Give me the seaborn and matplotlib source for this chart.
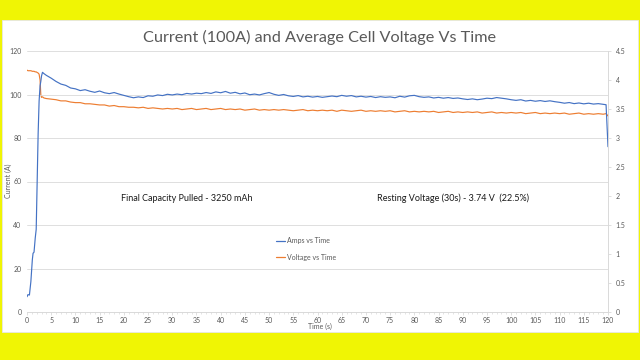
import matplotlib
matplotlib.use("Agg")
import matplotlib.pyplot as plt
import seaborn as sns
import numpy as np
import pandas as pd
from matplotlib.patches import Rectangle
from matplotlib.lines import Line2D
from matplotlib.ticker import MultipleLocator

# ---------------- data ----------------
time_start = [0, 0.2, 0.5, 0.8, 1.1, 1.25, 1.45, 1.7, 1.9, 2.1, 2.3, 2.5, 2.7, 2.85, 3.0, 3.2, 3.5]
amps_start = [7.0, 8.0, 7.8, 14.0, 24.0, 27.0, 27.5, 34.0, 38.0, 60.0, 82.0, 97.0, 104.0, 106.0, 108.5, 110.2, 109.6]
volts_start = [4.17, 4.16, 4.16, 4.16, 4.15, 4.15, 4.15, 4.14, 4.14, 4.13, 4.12, 4.10, 4.00, 3.75, 3.70, 3.71, 3.69]

time_main = list(range(4, 120)) + [119.6, 120]
amps_main = [
    108.8, 107.5, 106.0, 104.8, 104.2, 103.0, 102.6, 101.8, 102.2, 101.5,
    101.0, 101.6, 100.8, 100.4, 100.9, 100.2, 99.6, 99.0, 98.5, 98.9,
    98.6, 99.4, 99.2, 99.8, 99.5, 100.1, 99.8, 100.2, 99.9, 100.5,
    100.2, 100.6, 100.4, 100.9, 100.5, 101.2, 100.8, 101.4, 100.6, 101.0,
    100.3, 100.7, 99.9, 100.2, 99.8, 100.4, 100.9, 100.1, 99.6, 100.0,
    99.4, 99.1, 99.5, 98.9, 99.2, 98.8, 99.1, 98.7, 99.0, 99.3,
    99.0, 99.6, 99.2, 99.5, 98.9, 99.2, 98.8, 99.1, 98.6, 99.0,
    98.7, 98.9, 98.5, 99.2, 98.8, 99.4, 99.6, 99.0, 98.7, 98.9,
    98.4, 98.7, 98.3, 98.6, 98.2, 98.4, 98.0, 97.7, 98.0, 97.6,
    97.9, 98.3, 98.1, 98.6, 98.3, 98.0, 97.6, 97.3, 97.6, 97.0,
    97.3, 96.9, 97.2, 96.8, 97.1, 96.7, 96.4, 96.0, 96.3, 95.8,
    96.1, 95.7, 96.0, 95.6, 95.8, 95.5, 95.3, 76.0]
volts_main = [
    3.68, 3.67, 3.66, 3.64, 3.64, 3.62, 3.61, 3.61, 3.59, 3.59,
    3.58, 3.57, 3.57, 3.55, 3.56, 3.54, 3.54, 3.53, 3.53, 3.52,
    3.53, 3.51, 3.52, 3.51, 3.50, 3.51, 3.50, 3.51, 3.49, 3.50,
    3.51, 3.49, 3.50, 3.51, 3.49, 3.50, 3.51, 3.49, 3.50, 3.49,
    3.50, 3.48, 3.49, 3.50, 3.48, 3.49, 3.48, 3.49, 3.48, 3.49,
    3.48, 3.47, 3.48, 3.49, 3.47, 3.48, 3.47, 3.48, 3.47, 3.48,
    3.46, 3.48, 3.47, 3.46, 3.47, 3.48, 3.46, 3.47, 3.46, 3.47,
    3.46, 3.47, 3.45, 3.46, 3.47, 3.45, 3.46, 3.45, 3.46, 3.45,
    3.46, 3.44, 3.45, 3.46, 3.44, 3.45, 3.44, 3.45, 3.44, 3.45,
    3.43, 3.44, 3.45, 3.43, 3.44, 3.43, 3.44, 3.43, 3.44, 3.42,
    3.43, 3.44, 3.42, 3.43, 3.42, 3.43, 3.42, 3.43, 3.41, 3.42,
    3.43, 3.41, 3.42, 3.41, 3.42, 3.41, 3.42, 3.38]

x_ticks = list(range(0, 125, 5))
left_ticks = [0, 20, 40, 60, 80, 100, 120]
right_ticks = [0, 0.5, 1, 1.5, 2, 2.5, 3, 3.5, 4, 4.5]
right_labels = ["0", "0.5", "1", "1.5", "2", "2.5", "3", "3.5", "4", "4.5"]

title = "Current (100A) and Average Cell Voltage Vs Time"
note_left = "Final Capacity Pulled - 3250 mAh"
note_right = "Resting Voltage (30s) - 3.74 V  (22.5%)"

# ---------------- plot ----------------
sns.set_theme(style="white")
plt.rcParams["font.family"] = ["Lato", "DejaVu Sans"]

BLUE = "#4472C4"
ORANGE = "#ED7D31"
GRAY = "#595959"
GRID = "#D9D9D9"

fig = plt.figure(figsize=(6.4, 3.6), dpi=100)
fig.patch.set_facecolor("#F0F504")
panel = Rectangle((0.003, 1 - 332 / 360), 0.994, (332 - 20) / 360,
                  transform=fig.transFigure, facecolor="white",
                  edgecolor="#E6E6E6", linewidth=0.6, zorder=-10)
fig.patches.append(panel)

ax = fig.add_axes([27 / 640, 1 - 312 / 360, (608 - 27) / 640, (312 - 51) / 360])
df_a = pd.DataFrame({"t": time_start + time_main, "A": amps_start + amps_main})
df_v = pd.DataFrame({"t": time_start + time_main, "V": volts_start + volts_main})

ax2 = ax.twinx()
ax.set_zorder(2)
ax2.set_zorder(1)
ax.patch.set_visible(False)
ax2.patch.set_visible(False)
sns.lineplot(data=df_a, x="t", y="A", ax=ax, color=BLUE, linewidth=0.85)
sns.lineplot(data=df_v, x="t", y="V", ax=ax2, color=ORANGE, linewidth=0.85)

ax.set_xlim(0, 120)
ax.set_ylim(0, 120)
ax2.set_ylim(0, 4.5)
ax.set_xticks(x_ticks)
ax.set_xticklabels([str(v) for v in x_ticks])
ax.xaxis.set_minor_locator(MultipleLocator(1))
ax.set_yticks(left_ticks)
ax.set_yticklabels([str(v) for v in left_ticks])
ax2.set_yticks(right_ticks)
ax2.set_yticklabels(right_labels)

ax2.grid(False)
ax.grid(axis="y", color=GRID, linewidth=0.6)
ax.grid(axis="x", visible=False)
ax.set_axisbelow(True)
for s in ["top", "right", "left"]:
    ax.spines[s].set_visible(False)
ax.spines["bottom"].set_color(GRID)
ax.spines["bottom"].set_linewidth(0.7)
for s in ["top", "left", "bottom"]:
    ax2.spines[s].set_visible(False)
ax2.spines["right"].set_color(GRID)
ax2.spines["right"].set_linewidth(0.7)

ax.tick_params(axis="x", which="major", length=2.5, width=0.6, color=GRID,
               labelsize=5, labelcolor=GRAY, pad=1, direction="out", bottom=True)
ax.tick_params(axis="x", which="minor", length=1.5, width=0.5, color=GRID, bottom=True)
ax.tick_params(axis="y", length=0, labelsize=5, labelcolor=GRAY, pad=4)
ax2.tick_params(axis="y", length=2.5, width=0.6, color=GRID, labelsize=5,
                labelcolor=GRAY, pad=3, right=True)

ax.set_xlabel("Time (s)", fontsize=5, color=GRAY)
ax.xaxis.set_label_coords(0.5, 1 - 326 / 360, transform=fig.transFigure)
ax.xaxis.label.set_va("center")
ax.set_ylabel("Current (A)", fontsize=5, color=GRAY)
ax.yaxis.set_label_coords(8 / 640, 1 - 181 / 360, transform=fig.transFigure)
ax.yaxis.label.set_va("center")
ax2.set_ylabel("")

fig.text(0.5, 1 - 37 / 360, title, ha="center", va="center", fontsize=11.7, color=GRAY)
fig.text(121 / 640, 1 - 198 / 360, note_left, ha="left", va="center", fontsize=6.5, color="#1a1a1a")
fig.text(377 / 640, 1 - 198 / 360, note_right, ha="left", va="center", fontsize=6.5, color="#1a1a1a")

handles = [Line2D([0], [0], color=BLUE, lw=0.9), Line2D([0], [0], color=ORANGE, lw=0.9)]
leg = ax.legend(handles, ["Amps vs Time", "Voltage vs Time"], loc="center left",
                bbox_to_anchor=(270 / 640, 1 - 249 / 360), bbox_transform=fig.transFigure,
                frameon=False, fontsize=5, labelcolor=GRAY, handlelength=1.3,
                handletextpad=0.3, labelspacing=1.3)

fig.savefig("out.png", dpi=100, facecolor=fig.get_facecolor())
